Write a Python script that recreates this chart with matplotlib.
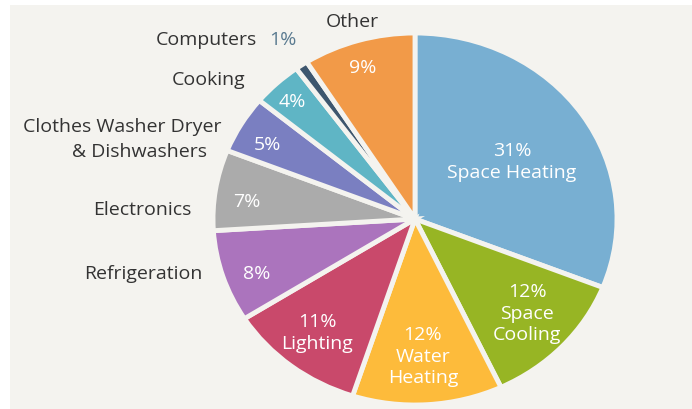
import matplotlib
matplotlib.use('Agg')
import matplotlib.pyplot as plt
from matplotlib.patches import Rectangle

# Data (clockwise from 12 o'clock)
categories = ['Space Heating', 'Space Cooling', 'Water Heating', 'Lighting',
              'Refrigeration', 'Electronics', 'Clothes Washer Dryer & Dishwashers',
              'Cooking', 'Computers', 'Other']
shares = [31, 12, 12, 11, 8, 7, 5, 4, 1, 9]
colors = ['#78afd2', '#97b524', '#fdbb3b', '#c9496b', '#ab74bd',
          '#ababab', '#7a7fc1', '#5fb5c5', '#3d566e', '#f29a48']

# Inside label text per slice
inside_text = ['31%\nSpace Heating', '12%\nSpace\nCooling', '12%\nWater\nHeating',
               '11%\nLighting', '8%', '7%', '5%', '4%', '', '9%']
# Pixel positions (image coords) for the labels
inside_pos = [(512, 162), (527, 314), (423, 357), (317, 333), (257, 274),
              (247, 202), (267, 145), (292, 102), None, (363, 68)]

W, H = 692, 410
BG = '#f4f3ef'
TXT = '#333333'
FONT = ['Open Sans', 'DejaVu Sans']
FS = 14

fig = plt.figure(figsize=(W / 100, H / 100), dpi=100)
fig.patch.set_facecolor('white')
fig.patches.append(Rectangle((10 / W, 0), 1 - 10 / W, 1 - 6 / H,
                             transform=fig.transFigure, facecolor=BG,
                             edgecolor='none', zorder=-5))

# pie centre and radii in pixels
cx, cy, rx, ry = 415, 220, 202, 186
ax = fig.add_axes([(cx - rx) / W, (H - cy - ry) / H, 2 * rx / W, 2 * ry / H])
ax.pie(shares, colors=colors, startangle=90, counterclock=False,
       wedgeprops=dict(edgecolor=BG, linewidth=3.5))
ax.set_aspect('auto')
ax.set_xlim(-1, 1)
ax.set_ylim(-1, 1)
ax.set_axis_off()
ax.patch.set_visible(False)


def px(x, y):
    return x / W, 1 - y / H


for txt, pos in zip(inside_text, inside_pos):
    if pos is None or not txt:
        continue
    fig.text(*px(*pos), txt, ha='center', va='center', color='white',
             fontsize=FS, family=FONT, linespacing=1.25)

# outside labels
fig.text(*px(352, 22), 'Other', ha='center', va='center', color=TXT,
         fontsize=FS, family=FONT)
fig.text(*px(257, 40), 'Computers', ha='right', va='center', color=TXT,
         fontsize=FS, family=FONT)
fig.text(*px(269, 40), '1%', ha='left', va='center', color='#5a7a90',
         fontsize=FS, family=FONT)
fig.text(*px(245, 80), 'Cooking', ha='right', va='center', color=TXT,
         fontsize=FS, family=FONT)
fig.text(*px(222, 127), 'Clothes Washer Dryer', ha='right', va='center',
         color=TXT, fontsize=FS, family=FONT)
fig.text(*px(207, 152), '& Dishwashers', ha='right', va='center',
         color=TXT, fontsize=FS, family=FONT)
fig.text(*px(192, 210), 'Electronics', ha='right', va='center', color=TXT,
         fontsize=FS, family=FONT)
fig.text(*px(203, 274), 'Refrigeration', ha='right', va='center', color=TXT,
         fontsize=FS, family=FONT)

fig.savefig('out.png', dpi=100, facecolor=fig.get_facecolor())
